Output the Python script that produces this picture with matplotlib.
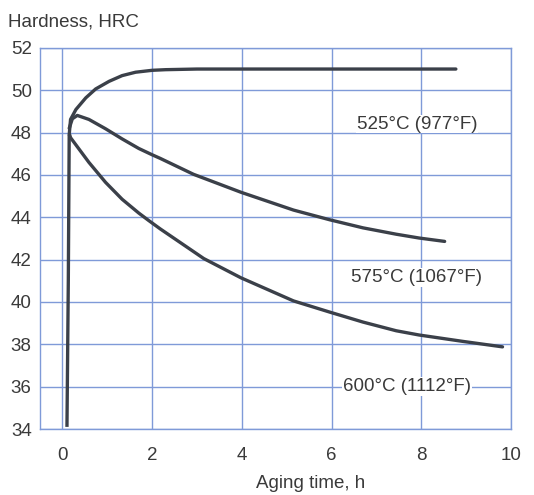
import numpy as np
import matplotlib
matplotlib.use("Agg")
import matplotlib.pyplot as plt

# DATA

# initial quench line, common to all three curves
start_t = [0.10, 0.13, 0.15]
start_hrc = [34.1, 41.0, 47.9]

t_525 = [0.15, 0.18, 0.30, 0.52, 0.74, 1.04, 1.33, 1.63, 2.0, 2.3, 3.0, 5.0, 7.0, 8.77]
hrc_525 = [47.9, 48.62, 49.09, 49.64, 50.06, 50.42, 50.69, 50.85, 50.94, 50.97, 51.0, 51.0, 51.0, 51.0]

t_575 = [0.15, 0.22, 0.33, 0.59, 0.96, 1.33, 1.70, 2.0, 2.18, 2.92, 3.98, 5.15, 5.96, 6.70,
         7.44, 7.95, 8.52]
hrc_575 = [48.2, 48.65, 48.81, 48.62, 48.18, 47.70, 47.25, 46.95, 46.78, 46.03, 45.18, 44.34,
           43.88, 43.5, 43.2, 43.02, 42.86]

t_600 = [0.16, 0.18, 0.59, 0.96, 1.33, 1.70, 1.92, 2.18, 3.15, 3.98, 5.15, 5.96, 6.70, 7.44,
         7.95, 8.92, 9.81]
hrc_600 = [47.9, 47.76, 46.59, 45.65, 44.85, 44.2, 43.85, 43.45, 42.05, 41.14, 40.05, 39.52,
           39.05, 38.64, 38.44, 38.14, 37.88]

labels = ["525°C (977°F)", "575°C (1067°F)", "600°C (1112°F)"]
label_pos = [(7.9, 48.4), (7.9, 41.15), (7.68, 36.0)]

x_ticks = [0, 2, 4, 6, 8, 10]
y_ticks = [34, 36, 38, 40, 42, 44, 46, 48, 50, 52]

# PLOT

plt.rcParams['font.family'] = ['Liberation Sans', 'DejaVu Sans']
grid_blue = '#7f9ad8'
curve_col = '#3b4049'
text_col = '#3a3a3a'
fs = 13.5

fig = plt.figure(figsize=(5.34, 4.95), dpi=100)
ax = fig.add_axes([0.075, 0.1333, 0.882, 0.770])

ax.plot(start_t, start_hrc, color=curve_col, lw=2.4, solid_capstyle='butt')
for t, h in [(t_525, hrc_525), (t_575, hrc_575), (t_600, hrc_600)]:
    ax.plot(t, h, color=curve_col, lw=2.4, solid_capstyle='round', solid_joinstyle='round')

for (tx, ty), lab in zip(label_pos, labels):
    ax.text(tx, ty, lab, ha='center', va='center', fontsize=fs, color=text_col,
            bbox=dict(facecolor='white', edgecolor='none', pad=0.5))

ax.set_xlim(-0.5, 10)
ax.set_ylim(34, 52)
ax.set_xticks(x_ticks)
ax.set_yticks(y_ticks)
ax.grid(True, color=grid_blue, lw=1.0)
ax.set_axisbelow(True)
for s in ax.spines.values():
    s.set_color(grid_blue)
    s.set_linewidth(1.0)
ax.tick_params(length=0, labelsize=fs, labelcolor=text_col)
ax.tick_params(axis='x', pad=13)
ax.tick_params(axis='y', pad=6)

# axis titles placed as in the reference
fig.text(311 / 534, 1 - 483 / 495, 'Aging time, h', fontsize=fs, color=text_col,
         ha='center', va='center')
fig.text(8 / 534, 1 - 22 / 495, 'Hardness, HRC', fontsize=fs, color=text_col,
         ha='left', va='center')

fig.savefig('out.png', dpi=100)
